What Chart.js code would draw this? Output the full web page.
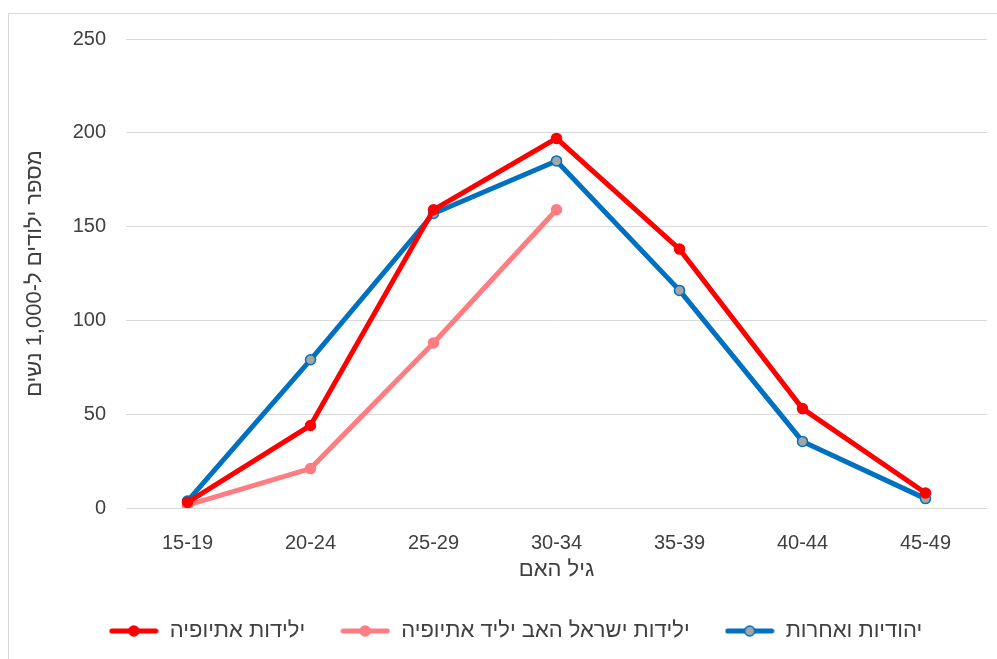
<!DOCTYPE html>
<html lang="he">
<head>
<meta charset="utf-8">
<script src="https://cdn.jsdelivr.net/npm/chart.js@4/dist/chart.umd.min.js"></script>
<style>
  html, body { margin: 0; padding: 0; background: #fff; overflow: hidden; }
  #frame { position: absolute; left: 8px; top: 13px; width: 1100px; height: 800px; border: 1px solid #d9d9d9; }
  #wrap { position: absolute; left: 0; top: 0; width: 997px; height: 659px; }
</style>
</head>
<body>
<div id="frame"></div>
<div id="wrap"><canvas id="chart"></canvas></div>
<script>
const ageGroups = ["15-19", "20-24", "25-29", "30-34", "35-39", "40-44", "45-49"];
const bornEthiopia = [3, 44, 159, 197, 138, 53, 8];
const bornIsraelFatherEthiopia = [1.5, 21, 88, 159, null, null, null];
const jewsOthers = [3.7, 79, 157, 185, 116, 35.5, 5];
const seriesNames = ["ילידות אתיופיה", "ילידות ישראל האב יליד אתיופיה", "יהודיות ואחרות"];
const yTicks = [0, 50, 100, 150, 200, 250];

const FONT = "'Liberation Sans', Arial, sans-serif";
const TEXT = "#404040";

// legend marker: short thick line with a dot in the middle
function legendMarker(line, fill, border) {
  const c = document.createElement("canvas");
  c.width = 50; c.height = 14;
  const g = c.getContext("2d");
  g.strokeStyle = line; g.lineWidth = 5; g.lineCap = "round";
  g.beginPath(); g.moveTo(3, 7); g.lineTo(47, 7); g.stroke();
  g.beginPath(); g.arc(25, 7, 5, 0, Math.PI * 2);
  g.fillStyle = fill; g.fill();
  g.lineWidth = 1.5; g.strokeStyle = border; g.stroke();
  return c;
}

const styles = [
  { line: "#ff0000", fill: "#ff0000", border: "#ff0000" },
  { line: "#ff7c80", fill: "#ff7c80", border: "#ff7c80" },
  { line: "#0070c0", fill: "#a5a5a5", border: "#0070c0" },
];
const values = [bornEthiopia, bornIsraelFatherEthiopia, jewsOthers];

const shiftLegend = {
  id: "shiftLegend",
  afterLayout(chart) {
    const l = chart.legend;
    l.left += 13; l.right += 13;
    l.top -= 2; l.bottom -= 2;
  },
};

new Chart(document.getElementById("chart"), {
  type: "line",
  data: {
    labels: ageGroups,
    datasets: values.map((d, i) => ({
      label: seriesNames[i],
      data: d,
      borderColor: styles[i].line,
      backgroundColor: styles[i].fill,
      pointBackgroundColor: styles[i].fill,
      pointBorderColor: styles[i].border,
      pointBorderWidth: 1.5,
      pointRadius: 5,
      borderWidth: 5,
      tension: 0,
      fill: false,
      spanGaps: false,
      pointStyle: "circle",
    })),
  },
  options: {
    responsive: true,
    maintainAspectRatio: false,
    animation: false,
    layout: { padding: { left: 18, right: 10, top: 39, bottom: 5 } },
    plugins: {
      tooltip: { enabled: false },
      legend: {
        position: "bottom",
        labels: {
          usePointStyle: true,
          pointStyleWidth: 50,
          padding: 35,
          color: TEXT,
          font: { family: FONT, size: 22 },
          generateLabels: chart => chart.data.datasets.map((ds, i) => ({
            text: ds.label,
            datasetIndex: i,
            pointStyle: legendMarker(styles[i].line, styles[i].fill, styles[i].border),
            fontColor: TEXT,
            lineWidth: 0,
          })),
        },
      },
    },
    scales: {
      x: {
        offset: true,
        grid: { display: false },
        border: { display: false },
        ticks: { color: TEXT, font: { family: FONT, size: 20 }, padding: 15, maxRotation: 0 },
        title: { display: true, text: "גיל האם", color: TEXT, font: { family: FONT, size: 22 }, padding: { top: 4, bottom: 4 } },
        afterFit: s => { s.height = 79; },
      },
      y: {
        min: 0,
        max: 250,
        afterBuildTicks: s => { s.ticks = yTicks.map(v => ({ value: v })); },
        grid: { color: "#d9d9d9", lineWidth: 1, drawTicks: false },
        border: { display: false },
        ticks: { color: TEXT, font: { family: FONT, size: 20 }, padding: 20 },
        title: { display: true, text: "מספר ילודים ל-1,000 נשים", color: TEXT, font: { family: FONT, size: 22 }, padding: { top: 4, bottom: 4 } },
        afterFit: s => { s.width = 108; },
      },
    },
  },
  plugins: [shiftLegend],
});
</script>
</body>
</html>
